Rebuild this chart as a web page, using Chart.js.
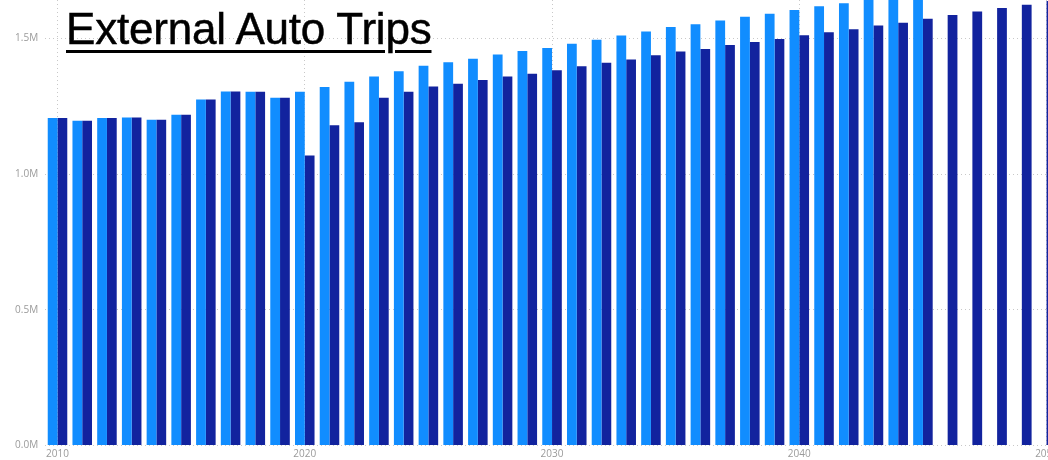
<!DOCTYPE html>
<html>
<head>
<meta charset="utf-8">
<script src="https://cdn.jsdelivr.net/npm/chart.js@4/dist/chart.umd.min.js"></script>
<style>
  html, body { margin: 0; padding: 0; background: #ffffff; width: 1048px; height: 460px; overflow: hidden; position: relative; }
  #wrap { position: absolute; left: 0; top: -28.6px; width: 1061px; height: 491px; }
  #title { position: absolute; left: 66px; top: 6.5px; font-family: "Liberation Sans", Arial, sans-serif; font-size: 44px; letter-spacing: -0.2px; line-height: 1; color: #000; -webkit-text-stroke: 0.5px #000; text-decoration: underline; text-decoration-thickness: 2.5px; text-underline-offset: 5.5px; white-space: nowrap; }
</style>
</head>
<body>
<div id="wrap"><canvas id="c"></canvas></div>
<div id="title">External Auto Trips</div>
<script>
const years = [2010,2011,2012,2013,2014,2015,2016,2017,2018,2019,2020,2021,2022,2023,2024,2025,2026,2027,2028,2029,2030,2031,2032,2033,2034,2035,2036,2037,2038,2039,2040,2041,2042,2043,2044,2045,2046,2047,2048,2049,2050];

// light blue series (ends 2045)
const seriesA = [1206000,1196000,1206000,1208000,1200000,1218000,1275000,1304000,1303000,1281000,
                 1303000,1321000,1340000,1359000,1379000,1399000,1412000,1425000,1440000,1453000,
                 1464000,1480000,1495000,1510000,1525000,1542000,1552000,1566000,1579000,1590000,
                 1604000,1618000,1629000,1642000,1655000,1668000,null,null,null,null,null];

// dark blue series
const seriesB = [1206000,1196000,1206000,1208000,1200000,1218000,1275000,1304000,1303000,1281000,
                 1068000,1180000,1191000,1281000,1303000,1322000,1333000,1346000,1359000,1369000,
                 1382000,1397000,1410000,1422000,1438000,1451000,1461000,1475000,1486000,1497000,
                 1511000,1522000,1533000,1547000,1557000,1572000,1586000,1599000,1612000,1624000,1637000];

const yTicks = [0, 500000, 1000000, 1500000];
const titleText = "External Auto Trips";

document.getElementById('title').textContent = titleText;

const gridColor = '#c8c8c8';
const tickColor = '#9a9a9a';

new Chart(document.getElementById('c'), {
  type: 'bar',
  data: {
    labels: years,
    datasets: [
      { label: 'Series A', data: seriesA, backgroundColor: '#118DFF', borderWidth: 0, barPercentage: 1.0, categoryPercentage: 0.79 },
      { label: 'Series B', data: seriesB, backgroundColor: '#12239E', borderWidth: 0, barPercentage: 1.0, categoryPercentage: 0.79 }
    ]
  },
  options: {
    responsive: true,
    maintainAspectRatio: false,
    animation: false,
    layout: { padding: 0 },
    plugins: { legend: { display: false }, tooltip: { enabled: false }, title: { display: false } },
    scales: {
      x: {
        offset: true,
        border: { display: false, dash: [1, 3] },
        grid: {
          offset: false,
          drawTicks: false,
          color: (ctx) => (ctx.index % 10 === 0 ? gridColor : 'rgba(0,0,0,0)'),
          lineWidth: 1
        },
        ticks: {
          autoSkip: false,
          maxRotation: 0,
          padding: 3,
          color: tickColor,
          font: { family: "'Open Sans', 'DejaVu Sans', sans-serif", size: 10 },
          callback: function(value, index) { return index % 10 === 0 ? String(years[index]) : ''; }
        },
        afterFit: (s) => { s.height = 16.5; }
      },
      y: {
        min: 0,
        max: 1700000,
        border: { display: false, dash: [1, 3] },
        grid: { drawTicks: false, color: gridColor, lineWidth: 1 },
        afterBuildTicks: (s) => { s.ticks = yTicks.map(v => ({ value: v })); },
        ticks: {
          padding: 7,
          color: tickColor,
          font: { family: "'Open Sans', 'DejaVu Sans', sans-serif", size: 10 },
          callback: (v) => (v / 1000000).toFixed(1) + 'M'
        },
        afterFit: (s) => { s.width = 45.14; }
      }
    }
  }
});
</script>
</body>
</html>
